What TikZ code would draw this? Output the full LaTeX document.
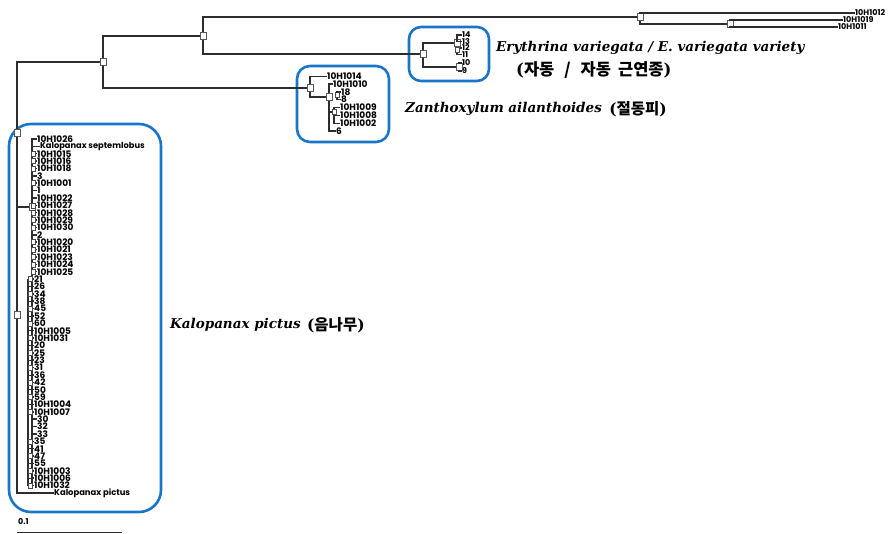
\documentclass[tikz,border=0pt]{standalone}
\usepackage{fontspec}
\setmainfont{DejaVu Serif}
\newfontfamily\treefont{Poppins}
\newfontfamily\krfont{Noto Sans CJK KR}
\definecolor{grpblue}{RGB}{24,117,200}
\definecolor{treeline}{RGB}{45,45,45}
\begin{document}
\begin{tikzpicture}[x=1pt,y=-1pt,
  br/.style={draw=treeline,line width=1.5pt},
  nd/.style={draw=black!65,fill=white,line width=0.6pt,minimum width=6pt,minimum height=7pt,inner sep=0pt,rectangle},
  sb/.style={draw=black!70,fill=white,line width=0.5pt,minimum width=4pt,minimum height=5pt,inner sep=0pt,rectangle},
  lbl/.style={font=\treefont\bfseries\fontsize{9}{9}\selectfont,anchor=west,inner sep=0pt},
  slbl/.style={font=\treefont\bfseries\fontsize{8}{8}\selectfont,anchor=west,inner sep=0pt},
  grp/.style={draw=grpblue,line width=2.6pt},
  ttl/.style={anchor=west,inner sep=0pt,font=\fontsize{13.5}{13.5}\selectfont\bfseries\itshape},
  kr/.style={anchor=west,inner sep=0pt,font=\fontsize{15.5}{15.5}\selectfont\bfseries}
]
\useasboundingbox (0,0) rectangle (892,534);

% group frames
\draw[grp,rounded corners=22pt] (9,124) rectangle (161,512);
\draw[grp,rounded corners=13pt] (297,66) rectangle (389,142);
\draw[grp,rounded corners=12pt] (409,27) rectangle (489,81);

% backbone nodes
\node[nd] (A) at (103,62) {};
\node[nd] (B) at (203,36) {};
\node[nd] (T) at (640,17) {};
\node[nd] (T2) at (730,24) {};
\node[nd] (E) at (423,54) {};
\node[nd] (Z) at (310,88) {};
\node[nd] (K1) at (17,133) {};
\node[nd] (K2) at (17,315) {};
\node[nd] (K3) at (32,207) {};

% top clade labels
\node[slbl] (t1) at (855,13) {10H1012};
\node[slbl] (t2) at (843,20) {10H1019};
\node[slbl] (t3) at (838,27) {10H1011};

\draw[br] (K1) |- (A);
\draw[br] (A) |- (B);
\draw[br] (A) |- (Z);
\draw[br] (B) |- (T);
\draw[br] (B) |- (E);
\draw[br] (T) |- (t1.west);
\draw[br] (T) |- (T2);
\draw[br] (T2) |- (t2.west);
\draw[br] (T2) |- (t3.west);

% Erythrina clade
\node[slbl] (e14) at (462,35) {14};
\node[slbl] (e13) at (462,41.5) {13};
\node[slbl] (e12) at (462,48) {12};
\node[slbl] (e11) at (462,54.5) {11};
\node[slbl] (e10) at (462,63) {10};
\node[slbl] (e9) at (462,71) {9};
\node[nd] (E1) at (457,43) {};
\node[nd] (E2) at (459,67) {};
\draw[br] (E) |- (E1);
\draw[br] (E) |- (E2);
\draw[br] (E1) |- (e14.west);
\draw[br] (E1) |- (e13.west);
\draw[br] (E1) |- (e12.west);
\draw[br] (E1) |- (e11.west);
\draw[br] (E2) |- (e10.west);
\draw[br] (E2) |- (e9.west);
\node[sb] (E1b) at (457,50) {};

% Zanthoxylum clade
\node[lbl] (z1) at (327,76.5) {10H1014};
\node[lbl] (z2) at (333,84) {10H1010};
\node[lbl] (z3) at (341,92) {18};
\node[lbl] (z4) at (341,99.5) {8};
\node[lbl] (z5) at (340,107.5) {10H1009};
\node[lbl] (z6) at (340,115.5) {10H1008};
\node[lbl] (z7) at (340,123.5) {10H1002};
\node[lbl] (z8) at (336,131) {6};
\node[nd] (Z2) at (329,97) {};
\node[sb] (Z3) at (337,95) {};
\node[sb] (Z4) at (334,112) {};
\draw[br] (Z) |- (z1.west);
\draw[br] (Z) |- (Z2);
\draw[br] (Z2) |- (z2.west);
\draw[br] (Z3) |- (z3.west);
\draw[br] (Z3) |- (z4.west);
\draw[br] (Z2) |- (Z4);
\draw[br] (Z4) |- (z5.west);
\draw[br] (Z4) |- (z6.west);
\draw[br] (Z4) |- (z7.west);
\draw[br] (Z2) |- (z8.west);

% Kalopanax clade
\node[lbl,font=\treefont\bfseries\fontsize{8.4}{8.4}\selectfont] (kp) at (54,493) {Kalopanax pictus};
\draw[br] (K1) -- (K2);
\draw[br] (K2) |- (kp.west);
\draw[br] (K3) -- (K3 -| K1);
\foreach \t [count=\i from 0] in {10H1026,{\fontsize{8.3}{8.3}\selectfont Kalopanax septemlobus},10H1015,10H1016,10H1018,3,10H1001,1,10H1022,10H1027,10H1028,10H1029,10H1030,2,10H1020,10H1021,10H1023,10H1024,10H1025,21,26,34,38,45,52,60,10H1005,10H1031,20,25,23,31,36,42,50,59,10H1004,10H1007,30,32,33,35,41,47,55,10H1003,10H1006,10H1032}{
  \pgfmathsetmacro\yy{139+\i*7.375}
  \pgfmathsetmacro\xx{(\i==1) ? 40 : ((\i<19) ? 37 : ((\i>37 && \i<41) ? 37 : 34))}
  \node[lbl] (k\i) at (\xx,\yy) {\t};
  \draw[br] (K3) |- (k\i.west);
}
\draw[br] ([xshift=-6pt]k19.west) -- ([xshift=-6pt]k47.west);
\foreach \i in {19,...,47}{
  \draw[br,line width=0.8pt] ([xshift=-6pt]k\i.west) -- (k\i.west);
}
\foreach \i in {2,3,4,6,9,10,11,12,14,15,16,17,18}{
  \node[sb] (sa\i) at ([xshift=-4pt]k\i.west) {};
}
\foreach \i in {19,21,23,25,27,29,31,33,35,37,41,43,45,47}{
  \node[sb] (sl\i) at ([xshift=-4pt]k\i.west) {};
}

% scale bar
\node[slbl] (sc) at (18,522) {0.1};
\coordinate (s0) at (17,532);
\coordinate (s1) at (122,532);
\draw[draw=treeline,line width=0.8pt] (s0) -- (s1);

% titles
\node[ttl] (ery) at (496,48) {Erythrina variegata / E. variegata variety};
\node[kr,font=\fontsize{16.5}{16.5}\selectfont\bfseries] (eryk) at (516,70) {(\krfont 자동\hspace{10pt}/\hspace{10pt}자동\hspace{7pt}근연종\rmfamily)};
\node[ttl] (zan) at (405,109) {Zanthoxylum ailanthoides};
\node[kr] (zank) at ([xshift=7pt]zan.east) {(\krfont 절동피\rmfamily)};
\node[ttl] (kal) at (170,325) {Kalopanax pictus};
\node[kr] (kalk) at ([xshift=6pt]kal.east) {(\krfont 음나무\rmfamily)};
\end{tikzpicture}
\end{document}
